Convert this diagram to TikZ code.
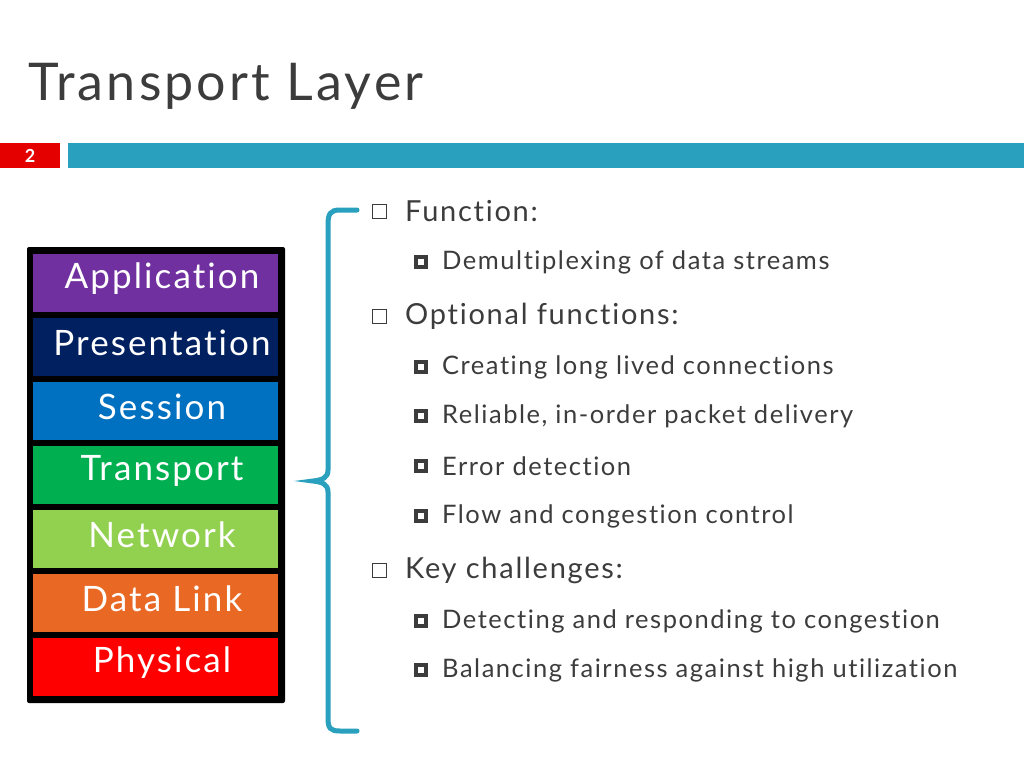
\documentclass[tikz,border=0pt]{standalone}
\usepackage{fontspec}
\setmainfont{Lato}[LetterSpace=6,Ligatures=NoCommon]
\definecolor{barblue}{RGB}{41,160,190}
\definecolor{txt}{RGB}{60,60,60}
\begin{document}
\begin{tikzpicture}[x=1pt,y=-1pt,
 layer/.style={minimum width=245pt,minimum height=58pt,inner sep=0pt,text=white,font=\fontsize{34}{36}\selectfont},
 lvl/.style={anchor=west,text=txt,font=\fontsize{29}{30}\selectfont,inner sep=0pt},
 sub/.style={anchor=west,text=txt,font=\fontsize{25.5}{26}\selectfont,inner sep=0pt}]
\useasboundingbox (0,0) rectangle (1024,768);
\node[anchor=west,text=txt,font=\fontsize{52}{54}\selectfont,inner sep=0pt] (title) at (28,86) {Transport Layer};
\fill[red!90!black] (0,143) rectangle (60,168);
\node[text=white,font=\bfseries\fontsize{18}{20}\selectfont] (num) at (30,155.5) {2};
\fill[barblue] (68,143) rectangle (1024,168);
\fill[black,rounded corners=2pt] (27,247) rectangle (285,703);
\foreach \n/\t/\c/\y in {app/Application/{112,48,160}/283, pre/Presentation/{0,32,96}/347, ses/Session/{0,112,192}/411, tra/Transport/{0,176,80}/475, net/Network/{146,208,80}/539, dl/Data Link/{232,104,36}/603, phy/Physical/{255,0,0}/667}{
 \definecolor{tmp}{RGB}{\c}
 \node[layer,fill=tmp] (\n) at (155.5,\y) {};
 \node[text=white,font=\fontsize{35}{36}\selectfont] (\n t) at (162,\y-4) {\t};
}
\draw[barblue,line width=5pt,line cap=round] (357,210) -- (340,210) .. controls (330,210) and (328,214) .. (328,225) -- (328,470) .. controls (328,478) and (322,480) .. (313,481) .. controls (322,482) and (328,484) .. (328,492) -- (328,718) .. controls (328,728) and (330,731) .. (340,731) -- (357,731);
\foreach \y/\t in {211/Function:, 316/Optional functions:, 570/Key challenges:}{
 \draw[txt,line width=1pt] (372,\y-7) rectangle (386,\y+7);
 \node[lvl] at (405,\y) {\t};
}
\foreach \y/\t in {262/Demultiplexing of data streams, 367/Creating long lived connections, 416/{Reliable, in-order packet delivery}, 466/Error detection, 516/Flow and congestion control, 621/Detecting and responding to congestion, 670/Balancing fairness against high utilization}{
 \fill[txt] (414,\y-7) rectangle (428,\y+7);
 \fill[white] (418,\y-3) rectangle (424,\y+3);
 \node[sub] at (442,\y) {\t};
}
\end{tikzpicture}
\end{document}
